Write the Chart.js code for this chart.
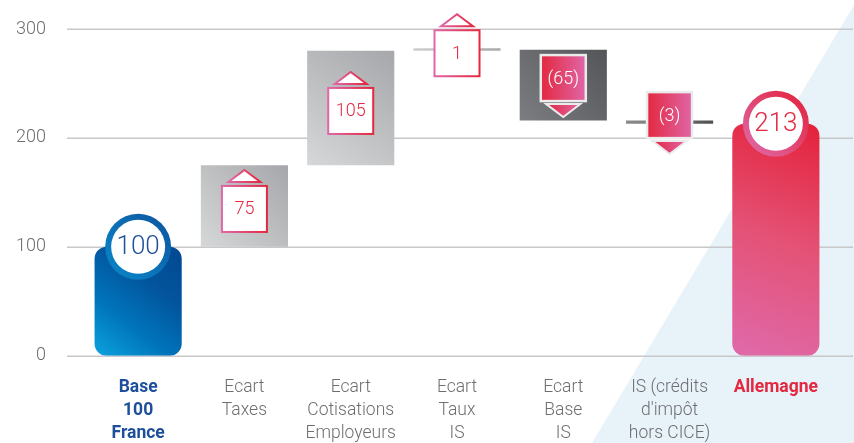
<!DOCTYPE html>
<html>
<head>
<meta charset="utf-8">
<script src="https://cdn.jsdelivr.net/npm/chart.js@4/dist/chart.umd.min.js"></script>
<style>
  html, body { margin: 0; padding: 0; background: #fff; }
  #wrap { width: 854px; height: 443px; position: relative; }
</style>
</head>
<body>
<div id="wrap"><canvas id="chart"></canvas></div>
<script>
// ===== Waterfall: France base 100 vs Allemagne =====

// Data
const categories = [
  ['Base', '100', 'France'],
  ['Ecart', 'Taxes'],
  ['Ecart', 'Cotisations', 'Employeurs'],
  ['Ecart', 'Taux', 'IS'],
  ['Ecart', 'Base', 'IS'],
  ['IS (crédits', "d'impôt", 'hors CICE)'],
  ['Allemagne']
];
const steps = [100, 75, 105, 1, -65, -3, 213];
const isTotal = [true, false, false, false, false, false, true];
const valueLabels = ['100', '75', '105', '1', '(65)', '(3)', '213'];
const yTicks = [0, 100, 200, 300];

// Floating ranges for the waterfall
let running = 0;
const ranges = steps.map((v, i) => {
  if (isTotal[i]) { running = v; return [0, v]; }
  const r = [running, running + v];
  running += v;
  return r;
});

const FONT = 'Roboto, "Helvetica Neue", Arial, sans-serif';
const RED = '#e3283f';
const PINK = '#e066a6';
const BLUE_TEXT = '#1d4f9b';
const GREY_TEXT = '#6d6e71';

// Per-bar gradient stops (diagonal = bottom-left -> top-right, flat = left -> right)
const barStyles = [
  { dir: 'diag', stops: ['#0ba3de', '#0074bb', '#02549c', '#024891'] },
  { dir: 'diag', stops: ['#d6d7d9', '#bdbfc1', '#a5a7aa'] },
  { dir: 'diag', stops: ['#d6d7d9', '#bdbfc1', '#a5a7aa'] },
  { dir: 'flat', stops: ['#cfcfcf', '#a9a9a9'] },
  { dir: 'diag', stops: ['#7c7d80', '#68696c', '#545558'] },
  { dir: 'flat', stops: ['#8a8a8a', '#7a7a7a', '#4f4f4f'] },
  { dir: 'diag', stops: ['#df6aab', '#e45276', '#e4213a'] }
];

function barBox(chart, i) {
  const { x, y } = chart.scales;
  const r = ranges[i];
  const cx = x.getPixelForValue(i);
  const hw = 43.5;
  return {
    cx, left: cx - hw, right: cx + hw,
    top: y.getPixelForValue(Math.max(r[0], r[1])),
    bottom: y.getPixelForValue(Math.min(r[0], r[1]))
  };
}

function barFill(ctx) {
  const chart = ctx.chart;
  const i = ctx.dataIndex;
  if (!chart.chartArea || !chart.scales.x) return '#bbb';
  const b = barBox(chart, i);
  const st = barStyles[i];
  const g = st.dir === 'diag'
    ? chart.ctx.createLinearGradient(b.left, b.bottom, b.right, b.top)
    : chart.ctx.createLinearGradient(b.left, 0, b.right, 0);
  st.stops.forEach((c, k) => g.addColorStop(k / (st.stops.length - 1), c));
  return g;
}

// Blue background wedge + extended grid lines
const backdropPlugin = {
  id: 'backdrop',
  beforeDraw(chart) {
    const c = chart.ctx;
    c.save();
    c.fillStyle = '#e8f2f9';
    c.beginPath();
    c.moveTo(857, 0);
    c.lineTo(592, 443);
    c.lineTo(854, 443);
    c.lineTo(854, 0);
    c.closePath();
    c.fill();
    c.restore();
  },
  beforeDatasetsDraw(chart) {
    const c = chart.ctx;
    const y = chart.scales.y;
    c.save();
    c.strokeStyle = '#c8c8ca';
    c.lineWidth = 1.5;
    yTicks.forEach(v => {
      const py = Math.round(y.getPixelForValue(v)) + 0.25;
      c.beginPath();
      c.moveTo(67, py);
      c.lineTo(853, py);
      c.stroke();
    });
    c.restore();
  }
};

function hGrad(c, x0, x1, a, b) {
  const g = c.createLinearGradient(x0, 0, x1, 0);
  g.addColorStop(0, a);
  g.addColorStop(1, b);
  return g;
}

// Value markers: circles on totals, boxes with arrows on steps
const markerPlugin = {
  id: 'markers',
  afterDatasetsDraw(chart) {
    const c = chart.ctx;
    c.save();
    steps.forEach((v, i) => {
      const b = barBox(chart, i);
      const cx = b.cx;
      if (isTotal[i]) {
        const cy = b.top;
        const g = c.createLinearGradient(cx - 30, cy + 30, cx + 30, cy - 30);
        if (i === 0) { g.addColorStop(0, '#0a86c9'); g.addColorStop(1, '#0d57a0'); }
        else { g.addColorStop(0, '#df6aa8'); g.addColorStop(1, '#e3233c'); }
        c.fillStyle = g;
        c.beginPath(); c.arc(cx, cy, 33, 0, Math.PI * 2); c.fill();
        c.fillStyle = '#fff';
        c.beginPath(); c.arc(cx, cy, 27, 0, Math.PI * 2); c.fill();
        c.fillStyle = i === 0 ? BLUE_TEXT : RED;
        c.font = '300 26px ' + FONT;
        c.textAlign = 'center';
        c.textBaseline = 'middle';
        c.fillText(valueLabels[i], cx, cy + 1);
        return;
      }
      const mid = (b.top + b.bottom) / 2;
      const w = 45, h = 46;
      const up = v > 0;
      const by = up ? mid + 3 - h / 2 : mid - 7 - h / 2;
      const bx = cx - w / 2;
      if (up) {
        // triangle above the box
        const ty = by - 4;
        c.beginPath();
        c.moveTo(cx - 16, ty);
        c.lineTo(cx, ty - 12);
        c.lineTo(cx + 16, ty);
        c.closePath();
        c.fillStyle = '#fff';
        c.fill();
        c.lineWidth = 2;
        c.strokeStyle = hGrad(c, cx - 16, cx + 16, PINK, RED);
        c.stroke();
        c.fillStyle = '#fff';
        c.fillRect(bx, by, w, h);
        c.lineWidth = 2;
        c.strokeStyle = hGrad(c, bx, bx + w, PINK, RED);
        c.strokeRect(bx, by, w, h);
        c.fillStyle = RED;
      } else {
        // triangle below the box
        const ty = by + h + 3;
        c.beginPath();
        c.moveTo(cx - 17, ty);
        c.lineTo(cx, ty + 13);
        c.lineTo(cx + 17, ty);
        c.closePath();
        c.fillStyle = hGrad(c, cx - 17, cx + 17, RED, PINK);
        c.fill();
        c.lineWidth = 2;
        c.strokeStyle = '#ebebeb';
        c.stroke();
        c.fillStyle = hGrad(c, bx, bx + w, RED, PINK);
        c.fillRect(bx, by, w, h);
        c.lineWidth = 2.5;
        c.strokeStyle = '#ebebeb';
        c.strokeRect(bx, by, w, h);
        c.fillStyle = '#fff';
      }
      c.font = '300 18px ' + FONT;
      c.textAlign = 'center';
      c.textBaseline = 'middle';
      c.fillText(valueLabels[i], cx, by + h / 2 + 1);
    });
    c.restore();
  }
};

new Chart(document.getElementById('chart'), {
  type: 'bar',
  data: {
    labels: categories,
    datasets: [{
      data: ranges,
      backgroundColor: barFill,
      borderRadius: ctx => (isTotal[ctx.dataIndex] ? 12 : 0),
      borderSkipped: false,
      borderWidth: 0,
      minBarLength: 2.5,
      categoryPercentage: 1,
      barPercentage: 0.82
    }]
  },
  options: {
    responsive: true,
    maintainAspectRatio: false,
    animation: false,
    layout: { padding: { top: 29, right: 25, left: 0, bottom: 0 } },
    plugins: {
      legend: { display: false },
      tooltip: { enabled: false }
    },
    scales: {
      x: {
        grid: { display: false, drawTicks: false },
        border: { display: false },
        ticks: {
          padding: 21,
          maxRotation: 0,
          autoSkip: false,
          color: c => (c.index === 0 ? BLUE_TEXT : c.index === 6 ? RED : GREY_TEXT),
          font: c => ({
            family: FONT,
            size: 17.5,
            weight: (c.index === 0 || c.index === 6) ? 'bold' : '300',
            lineHeight: 1.29
          })
        },
        afterFit: s => { s.height = 87.3; }
      },
      y: {
        min: 0,
        max: 300,
        grid: { display: false, drawTicks: false },
        border: { display: false },
        ticks: {
          stepSize: 100,
          padding: 39,
          color: GREY_TEXT,
          font: { family: FONT, size: 18, weight: '300' }
        },
        afterFit: s => { s.width = 85; s.paddingTop = 0; s.paddingBottom = 0; }
      }
    }
  },
  plugins: [backdropPlugin, markerPlugin]
});
</script>
</body>
</html>
